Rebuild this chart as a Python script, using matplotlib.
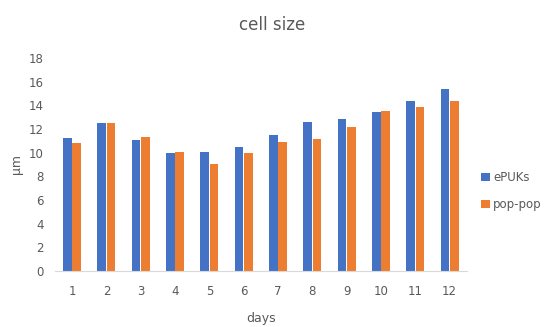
import numpy as np
import matplotlib
matplotlib.use("Agg")
import matplotlib.pyplot as plt

days = [1, 2, 3, 4, 5, 6, 7, 8, 9, 10, 11, 12]
epuks = [11.2, 12.5, 11.1, 10.0, 10.05, 10.45, 11.5, 12.6, 12.85, 13.4, 14.4, 15.4]
poppop = [10.8, 12.5, 11.3, 10.05, 9.0, 10.0, 10.9, 11.15, 12.2, 13.5, 13.85, 14.4]

BLUE = "#4472C4"
ORANGE = "#ED7D31"
TXT = "#595959"

fig = plt.figure(figsize=(5.44, 3.27), dpi=100)
ax = fig.add_axes([0.101, 0.171, 0.757, 0.652])

x = np.arange(len(days))
w = 0.25
ax.bar(x - 0.135, epuks, width=w, color=BLUE, label="ePUKs")
ax.bar(x + 0.135, poppop, width=w, color=ORANGE, label="pop-pop")

ax.set_xlim(-0.5, len(days) - 0.5)
ax.set_ylim(0, 18)
ax.set_yticks(range(0, 19, 2))
ax.set_xticks(x)
ax.set_xticklabels([str(d) for d in days])

for s in ["top", "right", "left"]:
    ax.spines[s].set_visible(False)
ax.spines["bottom"].set_color("#D9D9D9")
ax.tick_params(axis="both", length=0, colors=TXT, labelsize=8.5)
ax.tick_params(axis="y", pad=8)
ax.tick_params(axis="x", pad=10)

fig.text(0.5, 1 - 25 / 327, "cell size", color=TXT, fontsize=12,
         ha="center", va="center")
ax.set_xlabel("days", color=TXT, fontsize=9, labelpad=10)
ax.set_ylabel("µm", color=TXT, fontsize=9)

ax.legend(loc="center left", bbox_to_anchor=(1.01, 0.375), frameon=False,
          fontsize=8.5, labelcolor=TXT, handlelength=0.7, handleheight=0.7,
          handletextpad=0.3, labelspacing=1.2)

fig.savefig("out.png", dpi=100)
